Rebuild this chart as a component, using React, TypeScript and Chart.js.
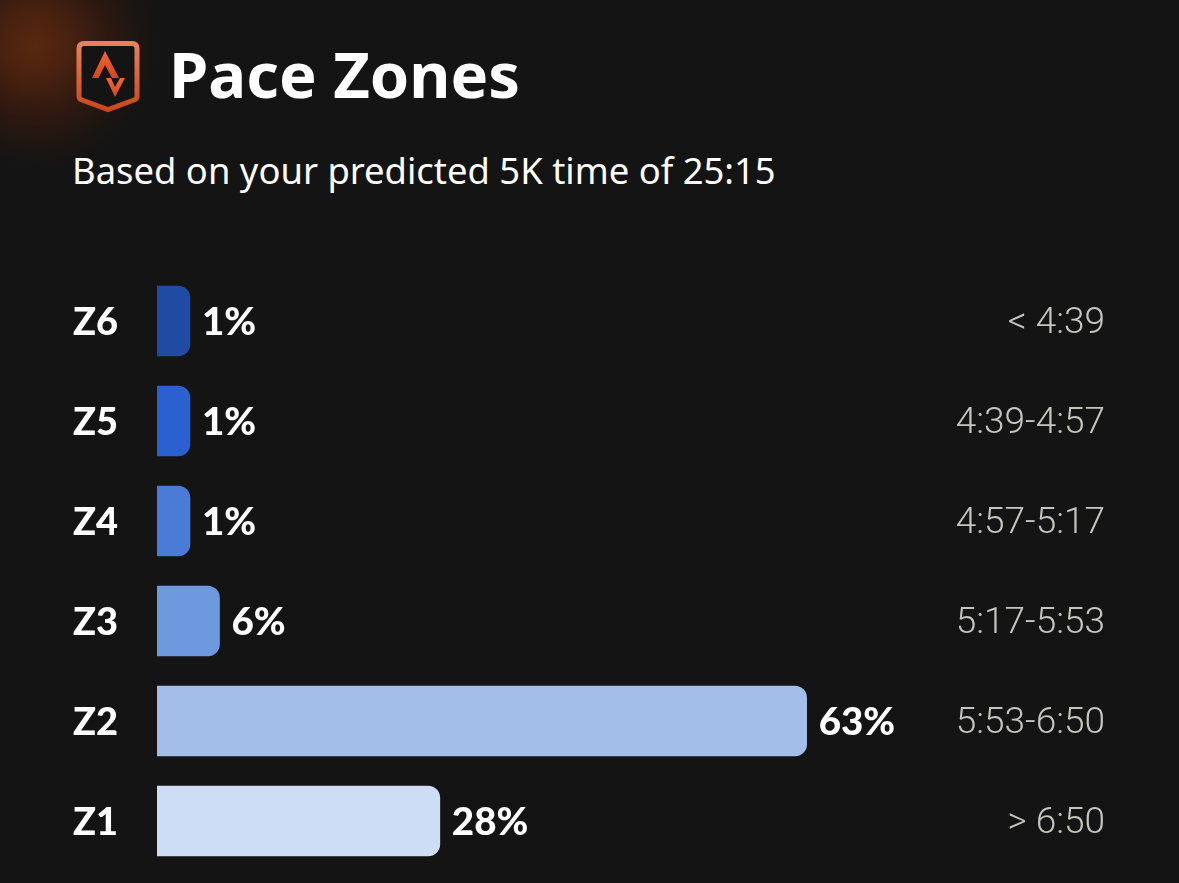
import React, { useEffect, useRef } from "react";
import { Chart, registerables } from "chart.js";

Chart.register(...registerables);

const zones = ["Z6", "Z5", "Z4", "Z3", "Z2", "Z1"];
const shares = [1, 1, 1, 6.1, 63.4, 27.6];
const paceRanges = ["< 4:39", "4:39-4:57", "4:57-5:17", "5:17-5:53", "5:53-6:50", "> 6:50"];
const zoneColors = ["#1f4ba5", "#2a60cf", "#4a7bd6", "#6d9adf", "#a3bfe9", "#cdddf5"];

const barLabels = {
  id: "barLabels",
  afterDatasetsDraw(chart: any) {
    const { ctx } = chart;
    const meta = chart.getDatasetMeta(0);
    ctx.save();
    ctx.font = "900 38.5px Lato";
    ctx.fillStyle = "#ffffff";
    ctx.textAlign = "left";
    ctx.textBaseline = "middle";
    meta.data.forEach((bar: any, i: number) => {
      ctx.fillText(`${Math.round(shares[i])}%`, bar.x + 12, bar.y + 2);
    });
    ctx.restore();
  },
};

const fitAxis = (width: number) => (s: any) => {
  s.width = width;
  s.paddingTop = 0;
  s.paddingBottom = 0;
};

// A blank first line nudges a tick label down by half the font's line height.
const nudged = (text: string) => ["", text];

export default function App() {
  const ref = useRef<HTMLCanvasElement>(null);

  useEffect(() => {
    const chart = new Chart(ref.current!, {
      type: "bar",
      data: {
        labels: zones,
        datasets: [
          {
            data: shares,
            backgroundColor: zoneColors,
            barThickness: 70,
            minBarLength: 33,
            borderSkipped: false,
            borderRadius: { topLeft: 0, bottomLeft: 0, topRight: 12, bottomRight: 12 },
          },
        ],
      },
      options: {
        indexAxis: "y",
        animation: false,
        responsive: false,
        layout: { padding: { top: 271, bottom: 12, left: 0, right: 74 } },
        plugins: { legend: { display: false }, tooltip: { enabled: false } },
        scales: {
          x: { display: false, min: 0, max: 76.9 },
          y: {
            position: "left",
            border: { display: false },
            grid: { display: false, drawTicks: false },
            afterFit: fitAxis(157),
            ticks: {
              crossAlign: "center",
              padding: 39,
              color: "#ffffff",
              font: { family: "Lato", weight: 900, size: 38, lineHeight: "4px" },
              callback(this: any, v: any) {
                return nudged(this.getLabelForValue(v));
              },
            },
          },
          y2: {
            type: "category",
            position: "right",
            labels: paceRanges,
            border: { display: false },
            grid: { display: false, drawTicks: false },
            afterFit: fitAxis(160),
            ticks: {
              crossAlign: "far",
              padding: 0,
              color: "#c6c6be",
              font: { family: "Roboto", weight: 300, size: 37, lineHeight: "6px" },
              callback(this: any, v: any) {
                return nudged(this.getLabelForValue(v));
              },
            },
          },
        },
      },
      plugins: [barLabels],
    } as any);
    return () => chart.destroy();
  }, []);

  return (
    <div
      style={{
        position: "fixed",
        left: 0,
        top: 0,
        width: 1179,
        height: 883,
        overflow: "hidden",
        background: "radial-gradient(circle 125px at 35px 45px, #58280f 0%, #4a2210 25%, #2c1811 60%, #1a1512 85%, #141414 100%), #141414",
      }}
    >
      <svg width="1179" height="883" style={{ position: "absolute", left: 0, top: 0 }}>
        <defs>
          <linearGradient id="shield" x1="0" y1="0" x2="0" y2="1">
            <stop offset="0" stopColor="#e8805a" />
            <stop offset="1" stopColor="#c9481f" />
          </linearGradient>
          <linearGradient id="mark" x1="0" y1="0" x2="0" y2="1">
            <stop offset="0" stopColor="#f0653a" />
            <stop offset="1" stopColor="#d4471c" />
          </linearGradient>
        </defs>
        <path
          d="M84 43.5 H132 Q137 43.5 137 48.5 V96 Q137 99 134 100 L108 109.5 L82 100 Q79 99 79 96 V48.5 Q79 43.5 84 43.5 Z"
          fill="#141414"
          stroke="url(#shield)"
          strokeWidth="5"
        />
        <path d="M105 51 L119 78 H112 L105 65 L98.500 78 H92 Z" fill="url(#mark)" />
        <path d="M106 78 H111 L115 87 L120 78 H125 L115 97 Z" fill="url(#mark)" />
      </svg>
      <div
        style={{
          position: "absolute",
          left: 169,
          top: 36,
          font: "700 63.3px/76px 'Noto Sans'",
          color: "#ffffff",
          whiteSpace: "nowrap",
        }}
      >
        Pace Zones
      </div>
      <div
        style={{
          position: "absolute",
          left: 72,
          top: 148,
          font: "400 36.4px/44px 'Noto Sans'",
          color: "#ffffff",
          whiteSpace: "nowrap",
        }}
      >
        Based on your predicted 5K time of 25:15
      </div>
      <canvas ref={ref} width={1179} height={883} style={{ position: "absolute", left: 0, top: 0 }} />
    </div>
  );
}
